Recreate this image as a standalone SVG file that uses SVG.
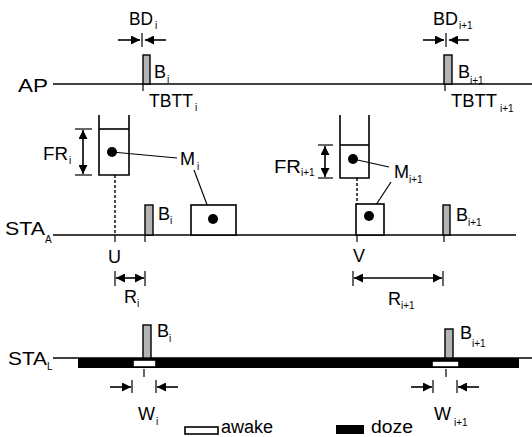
<svg xmlns="http://www.w3.org/2000/svg" width="532" height="437" viewBox="0 0 532 437">
<style>
text{font-family:"Liberation Sans",Arial,sans-serif;fill:#000}
.t{font-size:18px}
.s{font-size:10px}
.ln{stroke:#000;stroke-width:1.6;fill:none}
.thin{stroke:#000;stroke-width:1.2;fill:none}
.dash{stroke:#000;stroke-width:1.4;stroke-dasharray:3 2;fill:none}
.bcn{fill:#b4b4b4;stroke:#000;stroke-width:1.4}
.box{fill:#fff;stroke:#000;stroke-width:1.6}
.ar{stroke:#000;stroke-width:1.6;fill:none;marker-end:url(#ah)}
.dar{stroke:#000;stroke-width:1.6;fill:none;marker-start:url(#ahs);marker-end:url(#ah)}
</style>
<defs>
<marker id="ah" viewBox="0 0 10 10" refX="10" refY="5" markerWidth="9" markerHeight="9" markerUnits="userSpaceOnUse" orient="auto"><path d="M0,0 L10,5 L0,10 z" fill="#000"/></marker>
<marker id="ahs" viewBox="0 0 10 10" refX="0" refY="5" markerWidth="9" markerHeight="9" markerUnits="userSpaceOnUse" orient="auto"><path d="M10,0 L0,5 L10,10 z" fill="#000"/></marker>
</defs>

<g id="connectors">
<line class="ln" x1="53" y1="84" x2="532" y2="84"/>
<line class="ln" x1="53" y1="235" x2="516" y2="235"/>
<line class="ln" x1="53" y1="358" x2="532" y2="358"/>
<line class="thin" x1="143" y1="84" x2="143" y2="91"/>
<line class="thin" x1="445" y1="84" x2="445" y2="91"/>
<line class="thin" x1="142" y1="33" x2="142" y2="47"/>
<line class="ar" x1="118" y1="40" x2="140" y2="40"/>
<line class="ar" x1="166" y1="40" x2="145" y2="40"/>
<line class="thin" x1="446" y1="33" x2="446" y2="47"/>
<line class="ar" x1="423" y1="40" x2="444" y2="40"/>
<line class="ar" x1="469" y1="40" x2="449" y2="40"/>
<line class="thin" x1="75" y1="129" x2="92" y2="129"/>
<line class="thin" x1="75" y1="175" x2="92" y2="175"/>
<line class="dar" x1="83" y1="130" x2="83" y2="174"/>
<line class="thin" x1="318" y1="145" x2="333" y2="145"/>
<line class="thin" x1="318" y1="178" x2="333" y2="178"/>
<line class="dar" x1="325" y1="146" x2="325" y2="177"/>
<line class="thin" x1="112" y1="152" x2="177" y2="158"/>
<line class="thin" x1="194" y1="170" x2="212" y2="218"/>
<line class="thin" x1="353" y1="159" x2="389" y2="167"/>
<line class="thin" x1="391" y1="182" x2="370" y2="214"/>
<line class="dash" x1="115" y1="175" x2="115" y2="235"/>
<line class="thin" x1="115" y1="235" x2="115" y2="242"/>
<line class="dash" x1="357" y1="178" x2="357" y2="204"/>
<line class="thin" x1="357" y1="235" x2="357" y2="242"/>
<line class="thin" x1="145" y1="235" x2="145" y2="242"/>
<line class="thin" x1="444" y1="235" x2="444" y2="242"/>
<line class="thin" x1="115" y1="271" x2="115" y2="286"/>
<line class="thin" x1="145" y1="271" x2="145" y2="286"/>
<line class="dar" x1="116" y1="278" x2="144" y2="278"/>
<line class="thin" x1="353" y1="271" x2="353" y2="286"/>
<line class="thin" x1="443" y1="271" x2="443" y2="286"/>
<line class="dar" x1="354" y1="278" x2="442" y2="278"/>
<line class="thin" x1="144" y1="369" x2="144" y2="377"/>
<line class="thin" x1="446" y1="369" x2="446" y2="377"/>
<line class="thin" x1="132" y1="380" x2="132" y2="393"/>
<line class="thin" x1="156" y1="380" x2="156" y2="393"/>
<line class="ar" x1="110" y1="387" x2="131" y2="387"/>
<line class="ar" x1="178" y1="387" x2="157" y2="387"/>
<line class="thin" x1="433" y1="380" x2="433" y2="393"/>
<line class="thin" x1="457" y1="380" x2="457" y2="393"/>
<line class="ar" x1="411" y1="387" x2="432" y2="387"/>
<line class="ar" x1="479" y1="387" x2="458" y2="387"/>
</g>

<g id="ap">
<text class="t" x="18" y="92" textLength="30" lengthAdjust="spacingAndGlyphs">AP</text>
</g>
<g id="ap-beacon-i">
<rect class="bcn" x="143" y="55" width="7" height="29"/>
<text class="t" x="154" y="78">B</text><text class="s" x="167" y="83">i</text>
<text class="t" x="149" y="107" textLength="44" lengthAdjust="spacingAndGlyphs">TBTT</text><text class="s" x="195" y="111">i</text>
<text class="t" x="129" y="25" textLength="24" lengthAdjust="spacingAndGlyphs">BD</text><text class="s" x="155" y="29">i</text>
</g>
<g id="ap-beacon-i1">
<rect class="bcn" x="444" y="55" width="8" height="29"/>
<text class="t" x="458" y="78">B</text><text class="s" x="470" y="84">i+1</text>
<text class="t" x="451" y="107" textLength="46" lengthAdjust="spacingAndGlyphs">TBTT</text><text class="s" x="500" y="112">i+1</text>
<text class="t" x="433" y="25" textLength="25" lengthAdjust="spacingAndGlyphs">BD</text><text class="s" x="459" y="29">i+1</text>
</g>

<g id="sta-a">
<text class="t" x="5" y="235" textLength="40" lengthAdjust="spacingAndGlyphs">STA</text><text class="s" x="45" y="243">A</text>
</g>
<g id="frame-i">
<polyline class="ln" points="99,115 99,175 129,175 129,115"/>
<line class="ln" x1="99" y1="129" x2="129" y2="129"/>
<circle cx="112" cy="152" r="5"/>
<text class="t" x="43" y="160" textLength="25" lengthAdjust="spacingAndGlyphs">FR</text><text class="s" x="69" y="164">i</text>
<text class="t" x="180" y="165">M</text><text class="s" x="197" y="170">i</text>
</g>
<g id="msg-i">
<rect class="box" x="191" y="205" width="45" height="30"/>
<circle cx="213" cy="219" r="5"/>
</g>
<g id="sta-a-beacon-i">
<rect class="bcn" x="145" y="205" width="8" height="30"/>
<text class="t" x="158" y="220">B</text><text class="s" x="170" y="224">i</text>
<text class="t" x="108" y="263">U</text>
<text class="t" x="124" y="303">R</text><text class="s" x="137" y="307">i</text>
</g>
<g id="frame-i1">
<polyline class="ln" points="340,115 340,178 369,178 369,115"/>
<line class="ln" x1="340" y1="145" x2="369" y2="145"/>
<circle cx="353" cy="159" r="5"/>
<text class="t" x="274" y="173" textLength="27" lengthAdjust="spacingAndGlyphs">FR</text><text class="s" x="301" y="176">i+1</text>
<text class="t" x="394" y="178">M</text><text class="s" x="409" y="183">i+1</text>
</g>
<g id="msg-i1">
<rect class="box" x="356" y="204" width="28" height="31"/>
<circle cx="369" cy="216" r="5"/>
</g>
<g id="sta-a-beacon-i1">
<rect class="bcn" x="443" y="205" width="7" height="30"/>
<text class="t" x="456" y="221">B</text><text class="s" x="468" y="226">i+1</text>
<text class="t" x="353" y="262">V</text>
<text class="t" x="388" y="305">R</text><text class="s" x="401" y="309">i+1</text>
</g>

<g id="sta-l">
<text class="t" x="8" y="365" textLength="39" lengthAdjust="spacingAndGlyphs">STA</text><text class="s" x="47" y="370">L</text>
<rect x="78" y="358" width="441" height="10" fill="#000"/>
</g>
<g id="sta-l-beacon-i">
<rect class="bcn" x="143" y="325" width="8" height="33"/>
<rect class="box" x="133" y="360" width="23" height="7" stroke-width="1.2"/>
<text class="t" x="157" y="337">B</text><text class="s" x="169" y="342">i</text>
<text class="t" x="138" y="420">W</text><text class="s" x="156" y="425">i</text>
</g>
<g id="sta-l-beacon-i1">
<rect class="bcn" x="445" y="329" width="8" height="29"/>
<rect class="box" x="432" y="361" width="27" height="6" stroke-width="1.2"/>
<text class="t" x="460" y="339">B</text><text class="s" x="472" y="347">i+1</text>
<text class="t" x="434" y="420">W</text><text class="s" x="454" y="426">i+1</text>
</g>

<g id="legend">
<rect class="box" x="185" y="427" width="33" height="7" stroke-width="1.2"/>
<text class="t" x="221" y="433">awake</text>
<rect x="336" y="425" width="28" height="9" fill="#000"/>
<text class="t" x="371" y="433" textLength="42" lengthAdjust="spacingAndGlyphs">doze</text>
</g>
</svg>
